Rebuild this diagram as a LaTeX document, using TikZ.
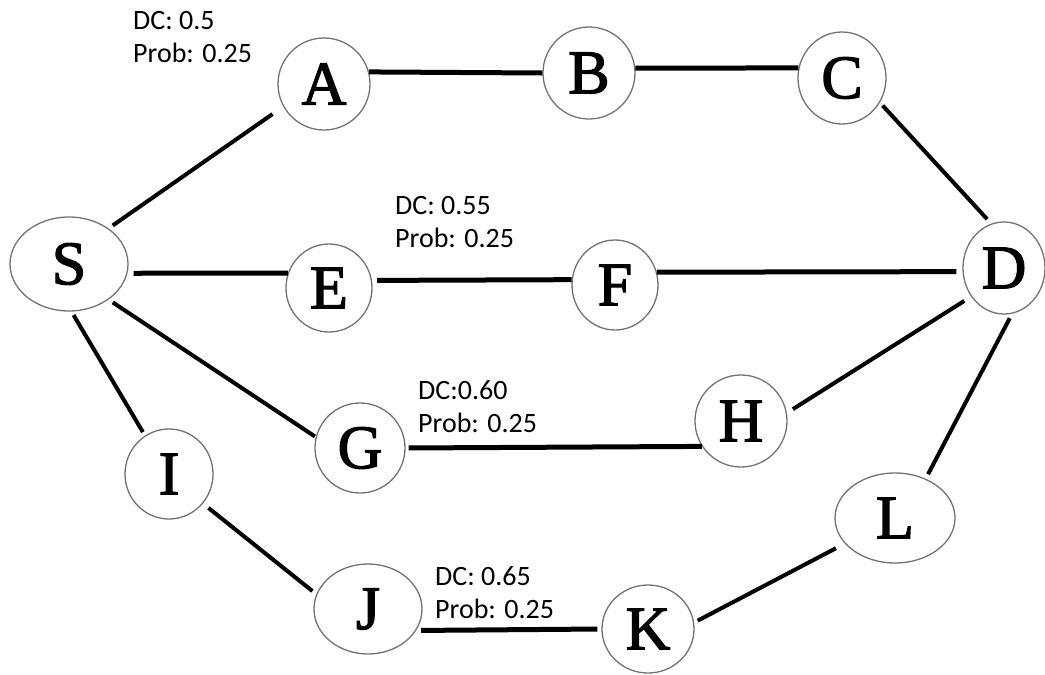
\documentclass[tikz,border=0pt]{standalone}
\usepackage{fontspec}
\usetikzlibrary{shapes.geometric}
\newfontfamily\vertexfont{Liberation Serif}[FakeBold=2]
\newfontfamily\notefont{Carlito}
\begin{document}
\begin{tikzpicture}[x=1pt, y=-1pt,
  vtx/.style 2 args={ellipse, draw=black!55, line width=1.3pt, inner sep=0pt,
    minimum width=#1pt, minimum height=#2pt,
    font=\vertexfont\fontsize{62}{62}\selectfont},
  edge/.style={line width=4pt},
  hedge/.style={line width=5pt},
  note/.style={anchor=base west, inner sep=0pt, align=left,
    font=\notefont\fontsize{28}{33}\selectfont}]
  % canvas
  \useasboundingbox[fill=white] (0,0) rectangle (1045,675);

  % vertices
  \node[vtx={118}{94}] (S) at (69,264)  {S};
  \node[vtx={92}{92}]  (A) at (324,84)  {A};
  \node[vtx={92}{92}]  (B) at (589,73)  {B};
  \node[vtx={88}{92}]  (C) at (842,78)  {C};
  \node[vtx={82}{92}]  (D) at (1004,268) {D};
  \node[vtx={86}{88}]  (E) at (329,288) {E};
  \node[vtx={86}{90}]  (F) at (615,285) {F};
  \node[vtx={90}{90}]  (G) at (360,448) {G};
  \node[vtx={92}{92}]  (H) at (741,421) {H};
  \node[vtx={88}{90}]  (I) at (169,474) {I};
  \node[vtx={108}{90}] (J) at (368,609) {J};
  \node[vtx={92}{88}]  (K) at (648,629) {K};
  \node[vtx={120}{90}] (L) at (895,518) {L};

  % top path S-A-B-C-D
  \draw[edge, shorten <=5pt, shorten >=13pt] (S.42) -- (A.209);
  \draw[hedge] (A.15) -- (B.180);
  \draw[hedge] (B.6) -- (C.167);
  \draw[edge, shorten <=4pt, shorten >=6pt] (C.327) -- (D.106);

  % path S-E-F-D
  \draw[hedge, shorten <=6pt] (S.351) -- (E.160);
  \draw[hedge, shorten <=5pt] (E.10) -- (F.173);
  \draw[hedge, shorten >=6pt] (F.17) -- (D.185);

  % path S-G-H-D
  \draw[edge, shorten <=5pt, shorten >=1pt] (S.318) -- (G.166);
  \draw[hedge, shorten <=3pt] (G.0) -- (H.213);
  \draw[edge, shorten <=7pt, shorten >=8pt] (H.10) -- (D.221);

  % path S-I-J-K-L-D
  \draw[edge, shorten <=4pt, shorten >=4pt] (S.273) -- (I.122);
  \draw[edge, shorten <=7pt, shorten >=5pt] (I.319) -- (J.164);
  \draw[hedge, shorten <=5pt, shorten >=4pt] (J.336) -- (K.180);
  \draw[edge, shorten <=4pt, shorten >=10pt] (K.8) -- (L.207);
  \draw[edge, shorten <=5pt, shorten >=5pt] (D.280) -- (L.52);

  % path annotations (anchored at the baseline of the last line)
  \node[note] (nA) at (133,62)  {DC: 0.5\\Prob: 0.25};
  \node[note] (nF) at (395,247) {DC: 0.55\\Prob: 0.25};
  \node[note] (nH) at (418,432) {DC:0.60\\Prob: 0.25};
  \node[note] (nK) at (435,618) {DC: 0.65\\Prob: 0.25};
\end{tikzpicture}
\end{document}
